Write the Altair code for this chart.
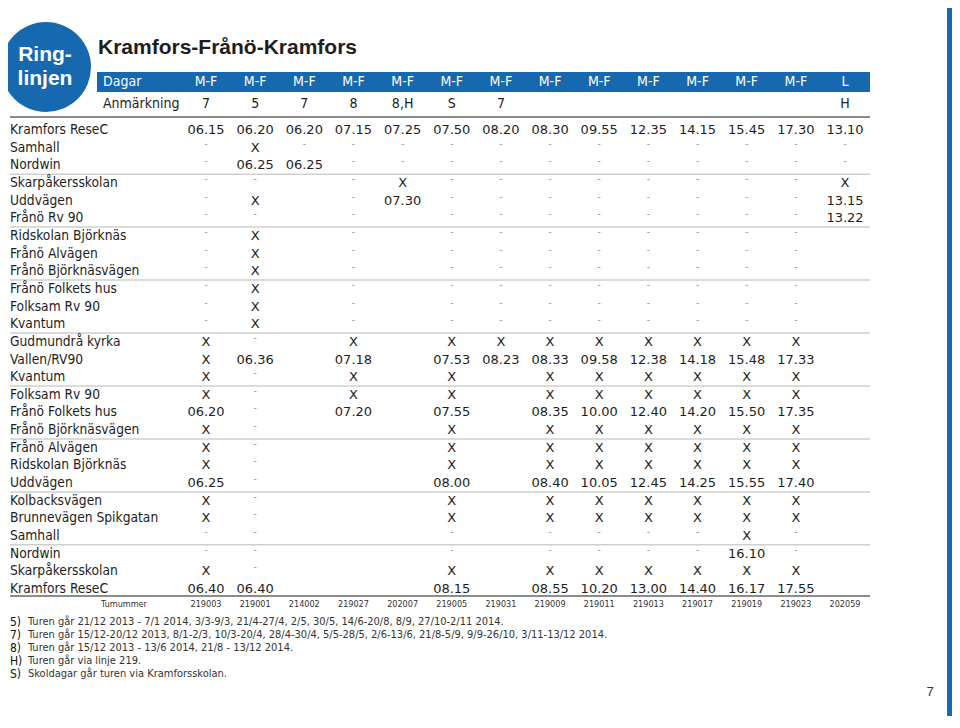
import altair as alt
import pandas as pd

# ---------------- data ----------------
days = ["M-F"] * 13 + ["L"]
notes = ["7", "5", "7", "8", "8,H", "S", "7", "", "", "", "", "", "", "H"]
trips = ["219003", "219001", "214002", "219027", "202007", "219005", "219031",
         "219009", "219011", "219013", "219017", "219019", "219023", "202059"]

stations = [
    "Kramfors ReseC", "Samhall", "Nordwin", "Skarpåkersskolan", "Uddvägen",
    "Frånö Rv 90", "Ridskolan Björknäs", "Frånö Alvägen", "Frånö Björknäsvägen",
    "Frånö Folkets hus", "Folksam Rv 90", "Kvantum", "Gudmundrå kyrka",
    "Vallen/RV90", "Kvantum", "Folksam Rv 90", "Frånö Folkets hus",
    "Frånö Björknäsvägen", "Frånö Alvägen", "Ridskolan Björknäs", "Uddvägen",
    "Kolbacksvägen", "Brunnevägen Spikgatan", "Samhall", "Nordwin",
    "Skarpåkersskolan", "Kramfors ReseC",
]

D = "-"
times = [
    ["06.15", "06.20", "06.20", "07.15", "07.25", "07.50", "08.20", "08.30", "09.55", "12.35", "14.15", "15.45", "17.30", "13.10"],
    [D, "X", D, D, D, D, D, D, D, D, D, D, D, D],
    [D, "06.25", "06.25", D, D, D, D, D, D, D, D, D, D, D],
    [D, D, "", D, "X", D, D, D, D, D, D, D, D, "X"],
    [D, "X", "", D, "07.30", D, D, D, D, D, D, D, D, "13.15"],
    [D, D, "", D, "", D, D, D, D, D, D, D, D, "13.22"],
    [D, "X", "", D, "", D, D, D, D, D, D, D, D, ""],
    [D, "X", "", D, "", D, D, D, D, D, D, D, D, ""],
    [D, "X", "", D, "", D, D, D, D, D, D, D, D, ""],
    [D, "X", "", D, "", D, D, D, D, D, D, D, D, ""],
    [D, "X", "", D, "", D, D, D, D, D, D, D, D, ""],
    [D, "X", "", D, "", D, D, D, D, D, D, D, D, ""],
    ["X", D, "", "X", "", "X", "X", "X", "X", "X", "X", "X", "X", ""],
    ["X", "06.36", "", "07.18", "", "07.53", "08.23", "08.33", "09.58", "12.38", "14.18", "15.48", "17.33", ""],
    ["X", D, "", "X", "", "X", "", "X", "X", "X", "X", "X", "X", ""],
    ["X", D, "", "X", "", "X", "", "X", "X", "X", "X", "X", "X", ""],
    ["06.20", D, "", "07.20", "", "07.55", "", "08.35", "10.00", "12.40", "14.20", "15.50", "17.35", ""],
    ["X", D, "", "", "", "X", "", "X", "X", "X", "X", "X", "X", ""],
    ["X", D, "", "", "", "X", "", "X", "X", "X", "X", "X", "X", ""],
    ["X", D, "", "", "", "X", "", "X", "X", "X", "X", "X", "X", ""],
    ["06.25", D, "", "", "", "08.00", "", "08.40", "10.05", "12.45", "14.25", "15.55", "17.40", ""],
    ["X", D, "", "", "", "X", "", "X", "X", "X", "X", "X", "X", ""],
    ["X", D, "", "", "", "X", "", "X", "X", "X", "X", "X", "X", ""],
    [D, D, "", "", "", D, "", D, D, D, D, "X", D, ""],
    [D, D, "", "", "", D, "", D, D, D, D, "16.10", D, ""],
    ["X", D, "", "", "", "X", "", "X", "X", "X", "X", "X", "X", ""],
    ["06.40", "06.40", "", "", "", "08.15", "", "08.55", "10.20", "13.00", "14.40", "16.17", "17.55", ""],
]

footnote_keys = ["5)", "7)", "8)", "H)", "S)"]
footnote_texts = [
    "Turen går 21/12 2013 - 7/1 2014, 3/3-9/3, 21/4-27/4, 2/5, 30/5, 14/6-20/8, 8/9, 27/10-2/11 2014.",
    "Turen går 15/12-20/12 2013, 8/1-2/3, 10/3-20/4, 28/4-30/4, 5/5-28/5, 2/6-13/6, 21/8-5/9, 9/9-26/10, 3/11-13/12 2014.",
    "Turen går 15/12 2013 - 13/6 2014, 21/8 - 13/12 2014.",
    "Turen går via linje 219.",
    "Skoldagar går turen via Kramforsskolan.",
]

# ---------------- tables ----------------
BLUE = "#1668af"
COND = "DejaVu Sans Condensed, Liberation Sans Narrow, sans-serif"
VERD = "DejaVu Sans, Verdana, sans-serif"

cells = []
for r, row in enumerate(times, start=1):
    for c, v in enumerate(row, start=1):
        if v:
            cells.append({"row": r, "col": c, "v": v, "dash": v == D})
cells = pd.DataFrame(cells)
vals = cells[~cells["dash"]]
dashes = cells[cells["dash"]]

stat_df = pd.DataFrame({"row": range(1, len(stations) + 1), "name": stations})
col_df = pd.DataFrame({"col": range(1, 15), "day": days, "note": notes, "trip": trips})
sep_df = pd.DataFrame({"row": [g + 0.5 for g in range(3, 25, 3)]})
bottom_df = pd.DataFrame({"row": [len(stations) + 0.4]})
foot_df = pd.DataFrame({"i": range(5), "k": footnote_keys, "t": footnote_texts,
                        "y": [614, 627, 640, 653, 666]})

xs = alt.Scale(domain=[1, 14], range=[198, 837])
ys = alt.Scale(domain=[1, 27], range=[122, 581])
X = alt.X("col:Q", scale=xs, axis=None)
Y = alt.Y("row:Q", scale=ys, axis=None)


def one(text):
    return pd.DataFrame({"t": [text]})


header_rect = alt.Chart(one("")).mark_rect(color=BLUE).encode(
    x=alt.value(89), x2=alt.value(862), y=alt.value(64), y2=alt.value(84))

strip = alt.Chart(one("")).mark_rect(color=BLUE).encode(
    x=alt.value(939), x2=alt.value(944), y=alt.value(0), y2=alt.value(708))

circle = alt.Chart(one("")).mark_point(filled=True, shape="circle", size=8100,
                                       color=BLUE, opacity=1).encode(
    x=alt.value(38), y=alt.value(59))

ring1 = alt.Chart(one("Ring-")).mark_text(font="Liberation Sans", fontWeight="bold", fontSize=21,
                                          color="white", align="center", baseline="middle").encode(
    x=alt.value(37), y=alt.value(47), text="t:N")
ring2 = alt.Chart(one("linjen")).mark_text(font="Liberation Sans", fontWeight="bold", fontSize=21,
                                           color="white", align="center", baseline="middle").encode(
    x=alt.value(37), y=alt.value(71), text="t:N")

title = alt.Chart(one("Kramfors-Frånö-Kramfors")).mark_text(
    font="Liberation Sans", fontWeight="bold", fontSize=21, color="#1e1e1e",
    align="left", baseline="middle").encode(x=alt.value(90), y=alt.value(40), text="t:N")

dagar = alt.Chart(one("Dagar")).mark_text(font=COND, fontSize=14, color="white",
                                         align="left", baseline="middle").encode(
    x=alt.value(95), y=alt.value(74), text="t:N")
anm = alt.Chart(one("Anmärkning")).mark_text(font=COND, fontSize=14, color="#222",
                                            align="left", baseline="middle").encode(
    x=alt.value(95), y=alt.value(96), text="t:N")

day_txt = alt.Chart(col_df).mark_text(font=COND, fontSize=14, color="white",
                                      baseline="middle").encode(
    x=X, y=alt.value(74), text="day:N")
note_txt = alt.Chart(col_df).mark_text(font=COND, fontSize=14, color="#222",
                                       baseline="middle").encode(
    x=X, y=alt.value(96), text="note:N")

top_rule = alt.Chart(one("")).mark_rule(color="#666", strokeWidth=1.5).encode(
    x=alt.value(2), x2=alt.value(862), y=alt.value(109))
seps = alt.Chart(sep_df).mark_rule(color="#cfcfcf", strokeWidth=1.5).encode(
    x=alt.value(2), x2=alt.value(862), y=Y)
bottom_rule = alt.Chart(bottom_df).mark_rule(color="#666", strokeWidth=1.5).encode(
    x=alt.value(2), x2=alt.value(862), y=Y)

station_txt = alt.Chart(stat_df).mark_text(font=COND, fontSize=13.7, color="#1e1e1e",
                                           align="left", baseline="middle").encode(
    x=alt.value(2), y=Y, text="name:N")

val_txt = alt.Chart(vals).mark_text(font=VERD, fontSize=13, color="#1e1e1e",
                                    baseline="middle").encode(x=X, y=Y, text="v:N")
dash_txt = alt.Chart(dashes).mark_text(font=VERD, fontSize=9, color="#8a8a8a",
                                       baseline="middle", dy=-4).encode(x=X, y=Y, text="v:N")

tum = alt.Chart(one("Tumummer")).mark_text(font=COND, fontSize=9, color="#333",
                                           align="center", baseline="middle").encode(
    x=alt.value(116), y=alt.value(596), text="t:N")
trip_txt = alt.Chart(col_df).mark_text(font=COND, fontSize=9, color="#333",
                                       baseline="middle").encode(
    x=X, y=alt.value(596), text="trip:N")

foot_k = alt.Chart(foot_df).mark_text(font=COND, fontSize=12, color="#111",
                                      align="left", baseline="middle").encode(
    x=alt.value(2), y=alt.Y("y:Q", scale=None), text="k:N")
foot_t = alt.Chart(foot_df).mark_text(font=COND, fontSize=11, color="#333",
                                      align="left", baseline="middle").encode(
    x=alt.value(20), y=alt.Y("y:Q", scale=None), text="t:N")

pagenum = alt.Chart(one("7")).mark_text(font="Liberation Sans", fontSize=13, color="#333",
                                        align="center", baseline="middle").encode(
    x=alt.value(922), y=alt.value(684), text="t:N")

chart = alt.layer(
    header_rect, strip, circle, ring1, ring2, title, dagar, anm, day_txt, note_txt,
    top_rule, seps, bottom_rule, station_txt, val_txt, dash_txt, tum, trip_txt,
    foot_k, foot_t, pagenum,
).properties(
    width=944, height=708, padding=0, autosize="none", background="white"
).configure_view(stroke=None)

chart.save("out.html", embed_options={"renderer": "svg", "actions": False})
